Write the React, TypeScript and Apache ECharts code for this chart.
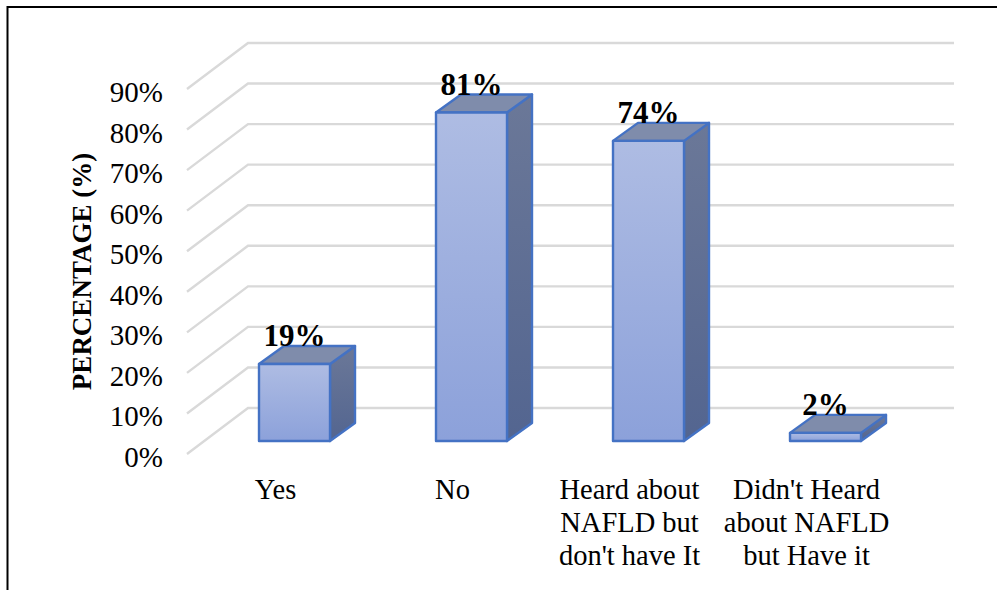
import React, { useEffect, useRef } from "react";
import * as echarts from "echarts";

const categories = ["Yes", "No", "Heard about\nNAFLD but\ndon't have It", "Didn't Heard\nabout NAFLD\nbut Have it"];
const percentages = [19, 81, 74, 2];
const gridTicks = [0, 10, 20, 30, 40, 50, 60, 70, 80, 90];

const FONT = "'Liberation Serif', serif";
const EDGE = "#4472C4";

// Oblique offsets of the 3D box, in pixels.
const WALL_DX = 61;
const WALL_DY = -46;
const WALL_INSET = 2;
const BAR_DX = 19;
const BAR_DY = -13;
const DEPTH_DX = 25;
const DEPTH_DY = -18;
const BAR_WIDTH = 71;

function renderGridLine(params: any, api: any) {
  const [, y] = api.coord([0, api.value(0)]);
  const left = params.coordSys.x;
  const right = left + params.coordSys.width;
  return {
    type: "polyline",
    silent: true,
    shape: {
      points: [
        [left, y],
        [left + WALL_DX, y + WALL_DY],
        [right + WALL_DX - WALL_INSET, y + WALL_DY],
      ],
    },
    style: { stroke: "#D9D9D9", lineWidth: 2.4, fill: "none" },
  };
}

function renderBar(_params: any, api: any) {
  const idx = api.value(0);
  const val = api.value(1);
  const [cx, top] = api.coord([idx, val]);
  const [, base] = api.coord([idx, 0]);
  const l = cx + BAR_DX - BAR_WIDTH / 2;
  const r = l + BAR_WIDTH;
  const t = top + BAR_DY;
  const b = base + BAR_DY;
  const edge = { stroke: EDGE, lineWidth: 2.4, lineJoin: "round" };
  return {
    type: "group",
    children: [
      {
        type: "polygon",
        shape: { points: [[r, t], [r + DEPTH_DX, t + DEPTH_DY], [r + DEPTH_DX, b + DEPTH_DY], [r, b]] },
        style: {
          ...edge,
          fill: new echarts.graphic.LinearGradient(0, 0, 0, 1, [
            { offset: 0, color: "#6B7898" },
            { offset: 1, color: "#536590" },
          ]),
        },
      },
      {
        type: "polygon",
        shape: { points: [[l, t], [l + DEPTH_DX, t + DEPTH_DY], [r + DEPTH_DX, t + DEPTH_DY], [r, t]] },
        style: { ...edge, fill: "#7F8CAB" },
      },
      {
        type: "rect",
        shape: { x: l, y: t, width: BAR_WIDTH, height: b - t },
        style: {
          ...edge,
          fill: new echarts.graphic.LinearGradient(0, 0, 0, 1, [
            { offset: 0, color: "#AEBCE3" },
            { offset: 1, color: "#8CA1DA" },
          ]),
        },
      },
      {
        type: "text",
        z2: 10,
        style: {
          x: l + BAR_WIDTH / 2,
          y: t - 28,
          text: `${val}%`,
          font: `bold 31px ${FONT}`,
          fill: "#000000",
          align: "center",
          verticalAlign: "middle",
        },
      },
    ],
  };
}

export default function App() {
  const ref = useRef<HTMLDivElement>(null);

  useEffect(() => {
    document.body.style.margin = "0";
    const chart = echarts.init(ref.current!, undefined, { renderer: "svg" });
    chart.setOption({
      animation: false,
      backgroundColor: "#ffffff",
      grid: { left: 187, top: 89, width: 708, height: 365, containLabel: false },
      xAxis: {
        type: "category",
        data: categories,
        axisLine: { show: false },
        axisTick: { show: false },
        axisLabel: {
          interval: 0,
          margin: 19,
          color: "#000000",
          fontFamily: FONT,
          fontSize: 28.5,
          lineHeight: 33,
        },
      },
      yAxis: {
        type: "value",
        min: 0,
        max: 90,
        interval: 10,
        name: "PERCENTAGE (%)",
        nameLocation: "middle",
        nameRotate: 90,
        nameGap: 92,
        nameTextStyle: { fontFamily: FONT, fontWeight: "bold", fontSize: 27, color: "#000000" },
        axisLine: { show: false },
        axisTick: { show: false },
        splitLine: { show: false },
        axisLabel: {
          margin: 24,
          verticalAlign: "top",
          lineHeight: 6,
          formatter: "{value}%",
          color: "#000000",
          fontFamily: FONT,
          fontSize: 29,
        },
      },
      graphic: [
        {
          type: "polyline",
          silent: true,
          shape: { points: [[7.5, 600], [7.5, 7], [1000, 7]] },
          style: { stroke: "#000000", lineWidth: 2, fill: "none" },
        },
      ],
      series: [
        {
          type: "custom",
          name: "grid",
          silent: true,
          z: 1,
          coordinateSystem: "cartesian2d",
          data: gridTicks.map((v) => [v]),
          encode: { y: 0 },
          renderItem: renderGridLine,
        },
        {
          type: "custom",
          name: "Percentage",
          z: 2,
          coordinateSystem: "cartesian2d",
          data: percentages.map((v, i) => [i, v]),
          encode: { x: 0, y: 1 },
          renderItem: renderBar,
        },
      ],
    });
    return () => chart.dispose();
  }, []);

  return <div ref={ref} style={{ width: 997, height: 590 }} />;
}
